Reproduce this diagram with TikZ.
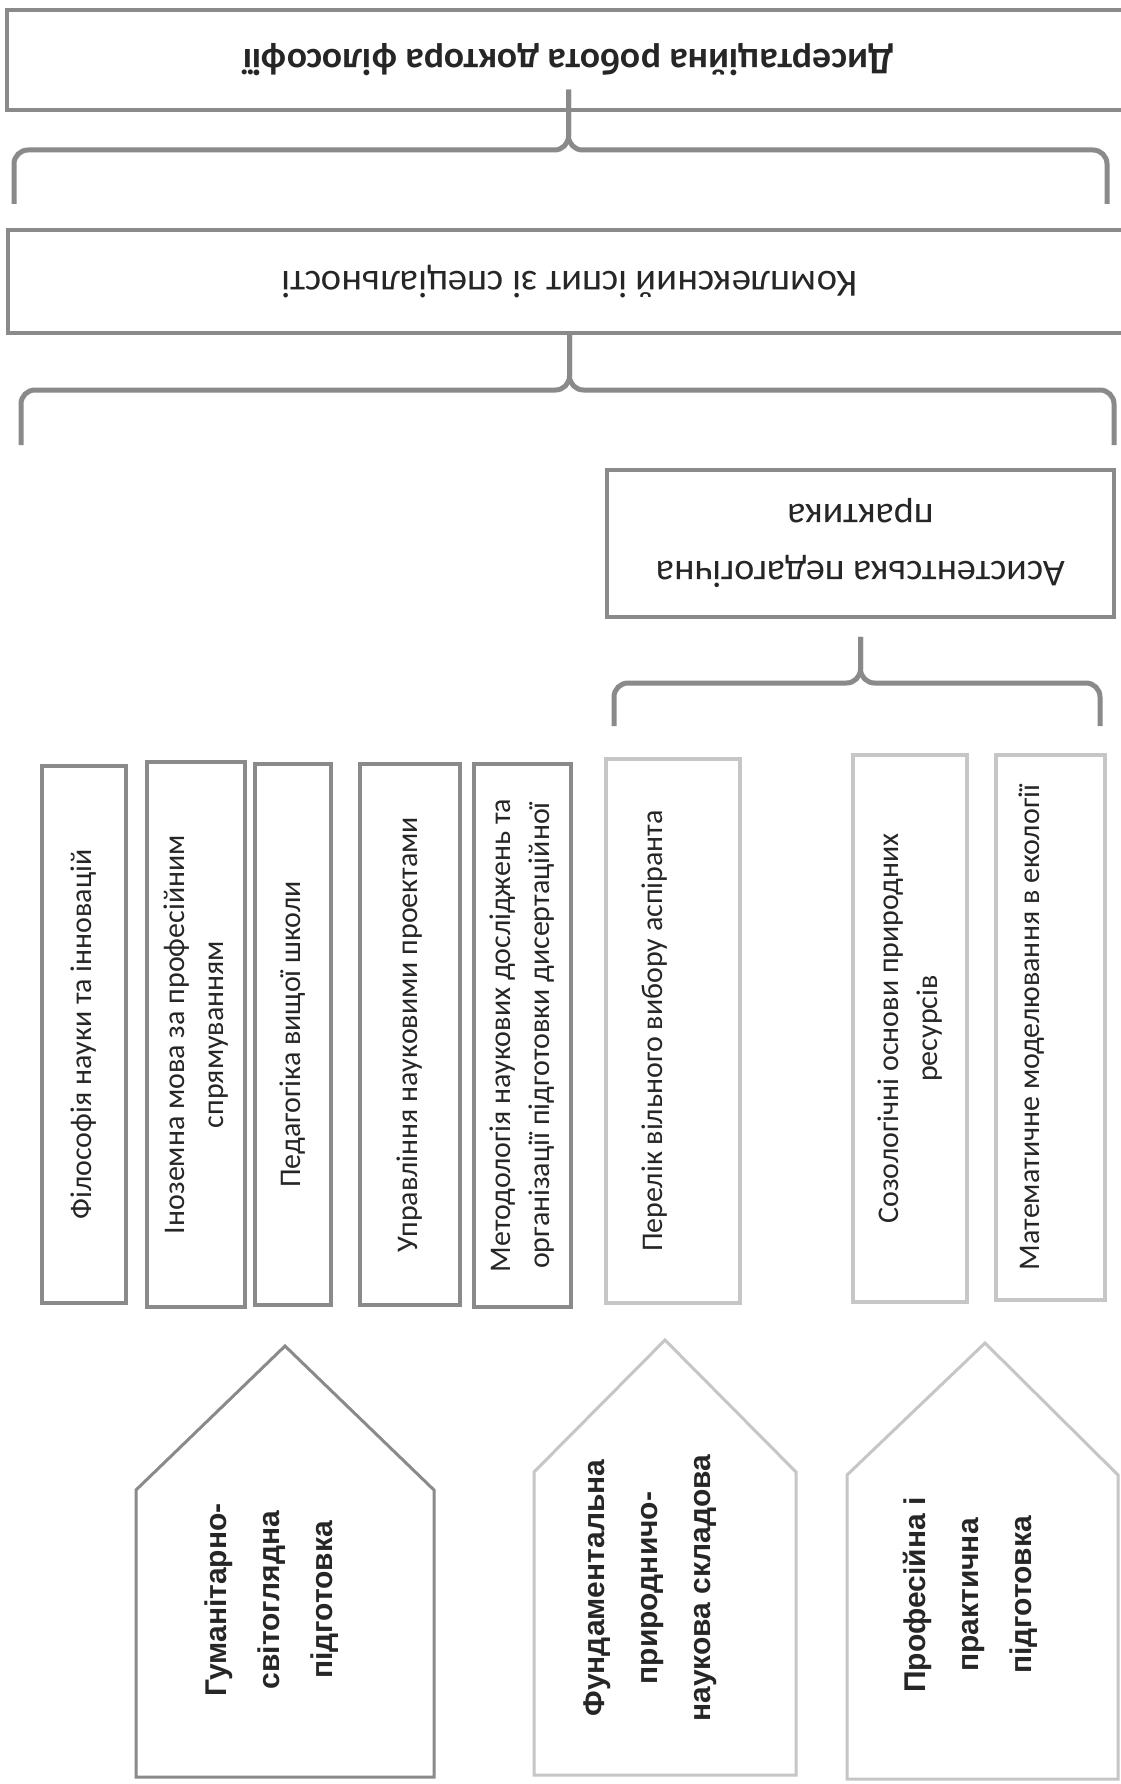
\documentclass[tikz,border=0pt]{standalone}
\usepackage{fontspec}
\setmainfont{Carlito}
\newfontfamily\housefont{Liberation Sans}
\usetikzlibrary{positioning}
\definecolor{frame}{HTML}{8A8A8A}
\definecolor{pale}{HTML}{C6C6C6}
\definecolor{ink}{HTML}{262626}

\begin{document}
\begin{tikzpicture}[x=1pt,y=-1pt,
  box/.style={draw=frame,line width=3.5pt,inner sep=0pt,text=ink,align=center},
  wide/.style={box,rotate=180,minimum width=1123pt},
  subj/.style={box,rotate=90,font=\fontsize{30}{39}\selectfont},
  light/.style={draw=pale},
  house/.style={line width=3pt},
  housetext/.style={rotate=90,align=center,text=ink,font=\housefont\bfseries\fontsize{30}{53}\selectfont},
  brace/.style={draw=frame,line width=5pt,rounded corners=14pt}]
   \fill[white] (0,0) rectangle (1120,1784);
   \useasboundingbox (0,0) rectangle (1120,1784);

   \node[wide,minimum height=100pt,font=\fontsize{37.5}{58}\selectfont\bfseries] (diss) at (568.5,60) {Дисертаційна робота доктора філософії};
   \node[wide,minimum height=103pt,font=\fontsize{38.5}{58}\selectfont] (exam) at (569.5,281.5) {Комплексний іспит зі спеціальності};
   \node[box,rotate=180,minimum width=507pt,minimum height=147pt,font=\fontsize{38}{57}\selectfont] (prac) at (860.5,543.5) {Асистентська педагогічна\\практика};

   \node[subj,minimum width=537pt,minimum height=84pt] (phil) at (84,1034.5) {Філософія науки та інновацій};
   \node[subj,minimum width=545pt,minimum height=98pt] (lang) at (196,1034.5) {Іноземна мова за професійним\\спрямуванням};
   \node[subj,minimum width=541pt,minimum height=76pt] (ped) at (293,1034.5) {Педагогіка вищої школи};
   \node[subj,minimum width=541pt,minimum height=100pt] (mgmt) at (410,1034.5) {Управління науковими проектами};
   \node[subj,minimum width=543pt,minimum height=97pt] (meth) at (522.5,1035.5) {Методологія наукових досліджень та\\організації підготовки дисертаційної};
   \node[subj,light,minimum width=544pt,minimum height=134pt,text depth=42pt] (choice) at (673,1031) {Перелік вільного вибору аспіранта};
   \node[subj,light,minimum width=547pt,minimum height=114pt] (soz) at (910,1028.5) {Созологічні основи природних\\ресурсів};
   \node[subj,light,minimum width=545pt,minimum height=109pt,text depth=42pt] (model) at (1050.5,1027.5) {Математичне моделювання в екології};

   \coordinate (b1) at (0,150);
   \coordinate (b2) at (0,390);
   \coordinate (b3) at (0,683);
   \draw[brace] (14,204) |- (diss.north |- b1) -- ([yshift=22pt]diss.north);
   \draw[brace] (1107,204) |- (diss.north |- b1) -- ([yshift=22pt]diss.north);
   \draw[brace] (21,445) |- (exam.north |- b2) -- (exam.north);
   \draw[brace] (1114,445) |- (exam.north |- b2) -- (exam.north);
   \draw[brace] (614,726) |- (prac.north |- b3) -- ([yshift=-18pt]prac.north);
   \draw[brace] (1100,726) |- (prac.north |- b3) -- ([yshift=-18pt]prac.north);

   \draw[house,draw=frame] (136,1777) -- (136,1490) -- (285,1346) -- (434,1490) -- (434,1777) -- cycle;
   \node[housetext] (hum) at (272,1600) {Гуманітарно-\\світоглядна\\підготовка};
   \draw[house,draw=pale] (534,1775) -- (534,1472) -- (665,1340) -- (796,1472) -- (796,1775) -- cycle;
   \node[housetext] (fund) at (650,1588) {Фундаментальна\\природничо-\\наукова складова};
   \draw[house,draw=pale] (847,1779) -- (847,1475) -- (985,1343) -- (1118,1475) -- (1118,1779) -- cycle;
   \node[housetext] (prof) at (970,1595) {Професійна і\\практична\\підготовка};
\end{tikzpicture}
\end{document}
